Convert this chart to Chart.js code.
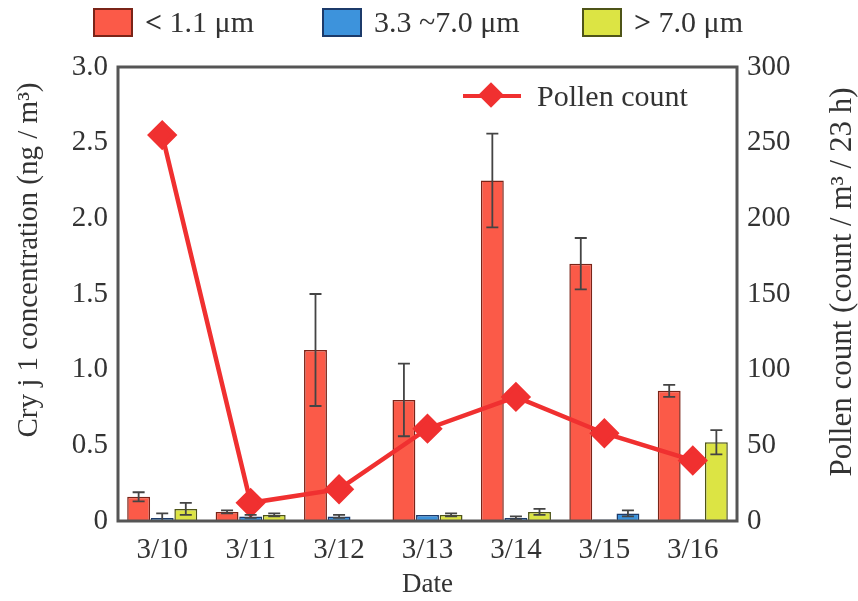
<!DOCTYPE html>
<html>
<head>
<meta charset="utf-8">
<script src="https://cdn.jsdelivr.net/npm/chart.js@4"></script>
<style>
  body { margin: 0; background: #fff; font-family: "Liberation Serif", serif; }
  #wrap { position: relative; width: 858px; height: 601px; }
  .legend { position: absolute; display: flex; align-items: center; font-size: 30px; color: #333; white-space: nowrap; }
  .box { display: inline-block; width: 36px; height: 25px; border: 2px solid #333; margin-right: 12px; }
  .pl-line { position: relative; width: 58px; height: 4px; background: #f03030; margin-right: 16px; }
  .pl-line::after { content: ''; position: absolute; left: 19px; top: -8px; width: 18px; height: 18px; background: #f03030; transform: rotate(45deg); }
</style>
</head>
<body>
<div id="wrap">
  <canvas id="chart" width="858" height="601"></canvas>
  <div id="topLegend"></div>
  <div class="legend" style="left:463px; top:79px;"><span class="pl-line"></span>Pollen count</div>
</div>
<script>
const dates = ['3/10', '3/11', '3/12', '3/13', '3/14', '3/15', '3/16'];

// Cry j 1 concentration (ng/m3) by particle size
const fine = [0.16, 0.06, 1.13, 0.80, 2.25, 1.70, 0.86];      // < 1.1 um
const fineErr = [0.03, 0.01, 0.37, 0.24, 0.31, 0.17, 0.04];
const mid = [0.02, 0.03, 0.03, 0.04, 0.02, 0.01, 0.01];        // 3.3 ~ 7.0 um
const midErr = [0.03, 0.01, 0.01, 0.00, 0.01, 0.00, 0.00];
const coarse = [0.08, 0.04, 0.00, 0.04, 0.06, 0.05, 0.52];     // > 7.0 um
const coarseErr = [0.04, 0.01, 0.00, 0.01, 0.02, 0.02, 0.08];

// Pollen count (count / m3 / 23 h)
const pollen = [255, 12, 21, 61, 82, 58, 40];

const leftTicks = [0, 0.5, 1.0, 1.5, 2.0, 2.5, 3.0];
const rightTicks = [0, 50, 100, 150, 200, 250, 300];

const leftTitle = 'Cry j 1 concentration (ng / m³)';
const rightTitle = 'Pollen count (count / m³ / 23 h)';

const sizeLabels = ['< 1.1 μm', '3.3 ~7.0 μm', '> 7.0 μm'];
const sizeColors = ['#fb5a48', '#3d93dc', '#dce444'];
const sizeBorders = ['#7a2418', '#1c3a6a', '#4e5418'];

// top legend (html)
const legendPos = [93, 322, 582];
const topLegend = document.getElementById('topLegend');
sizeLabels.forEach((lab, i) => {
  const el = document.createElement('div');
  el.className = 'legend';
  el.style.left = legendPos[i] + 'px';
  el.style.top = '5px';
  el.innerHTML = `<span class="box" style="background:${sizeColors[i]};border-color:${sizeBorders[i]}"></span>`;
  const span = document.createElement('span');
  if (lab[0] === '<' || lab[0] === '>') {
    const b = document.createElement('b');
    b.textContent = lab[0];
    span.appendChild(b);
    span.appendChild(document.createTextNode(lab.slice(1)));
  } else {
    span.textContent = lab;
  }
  el.appendChild(span);
  topLegend.appendChild(el);
});

// the 3/15 coarse bar is drawn in blue in the original
const coarseColors = dates.map((d, i) => i === 5 ? sizeColors[1] : sizeColors[2]);
const coarseBorders = dates.map((d, i) => i === 5 ? sizeBorders[1] : sizeBorders[2]);

const errors = [fineErr, midErr, coarseErr];

const errorBars = {
  id: 'errorBars',
  afterDatasetsDraw(chart) {
    const ctx = chart.ctx;
    const y = chart.scales.y;
    ctx.save();
    ctx.strokeStyle = '#444';
    ctx.lineWidth = 1.8;
    errors.forEach((errs, di) => {
      const meta = chart.getDatasetMeta(di);
      meta.data.forEach((bar, i) => {
        const v = chart.data.datasets[di].data[i];
        const e = errs[i];
        if (!e) return;
        const top = y.getPixelForValue(v + e);
        const bot = y.getPixelForValue(Math.max(v - e, 0));
        ctx.beginPath();
        ctx.moveTo(bar.x, top); ctx.lineTo(bar.x, bot);
        ctx.moveTo(bar.x - 6, top); ctx.lineTo(bar.x + 6, top);
        ctx.moveTo(bar.x - 6, bot); ctx.lineTo(bar.x + 6, bot);
        ctx.stroke();
      });
    });
    ctx.restore();
  }
};

// box round the plot + both y titles read bottom-to-top
const frame = {
  id: 'frame',
  afterDraw(chart) {
    const a = chart.chartArea;
    const ctx = chart.ctx;
    ctx.save();
    ctx.strokeStyle = '#555';
    ctx.lineWidth = 3;
    ctx.strokeRect(a.left, a.top, a.right - a.left, a.bottom - a.top);

    ctx.fillStyle = '#333';
    ctx.textAlign = 'center';
    ctx.textBaseline = 'middle';
    ctx.font = '29px "Liberation Serif"';
    ctx.translate(29, 260);
    ctx.rotate(-Math.PI / 2);
    ctx.fillText(leftTitle, 0, 0);
    ctx.setTransform(1, 0, 0, 1, 0, 0);
    ctx.font = '31px "Liberation Serif"';
    ctx.translate(843, 282);
    ctx.rotate(-Math.PI / 2);
    ctx.fillText(rightTitle, 0, 0);
    ctx.restore();
  }
};

const tickFont = { family: 'Liberation Serif', size: 29 };

new Chart(document.getElementById('chart'), {
  data: {
    labels: dates,
    datasets: [
      { type: 'bar', label: sizeLabels[0], data: fine, yAxisID: 'y',
        backgroundColor: sizeColors[0], borderColor: sizeBorders[0], borderWidth: 1.5, order: 2 },
      { type: 'bar', label: sizeLabels[1], data: mid, yAxisID: 'y',
        backgroundColor: sizeColors[1], borderColor: sizeBorders[1], borderWidth: 1.5, order: 2 },
      { type: 'bar', label: sizeLabels[2], data: coarse, yAxisID: 'y',
        backgroundColor: coarseColors, borderColor: coarseBorders, borderWidth: 1.5, order: 2 },
      { type: 'line', label: 'Pollen count', data: pollen, yAxisID: 'y1',
        borderColor: '#f03030', backgroundColor: '#f03030', borderWidth: 4.5,
        pointStyle: 'rectRot', pointRadius: 12, pointHoverRadius: 12, order: 1 }
    ]
  },
  options: {
    responsive: false,
    animation: false,
    layout: { padding: { top: 67, right: 0, left: 0, bottom: 0 } },
    datasets: { bar: { categoryPercentage: 0.8, barPercentage: 0.97 } },
    plugins: { legend: { display: false }, tooltip: { enabled: false } },
    scales: {
      x: {
        grid: { display: false, drawTicks: false },
        border: { display: false },
        ticks: { color: '#333', font: tickFont, padding: 12 },
        title: { display: true, text: 'Date', color: '#333', font: { family: 'Liberation Serif', size: 27 }, padding: 0 },
        afterFit: s => { s.height = 80; }
      },
      y: {
        position: 'left', min: 0, max: 3,
        grid: { display: false, drawTicks: false },
        border: { display: false },
        afterBuildTicks: s => { s.ticks = leftTicks.map(v => ({ value: v })); },
        ticks: { color: '#333', font: tickFont, padding: 10,
          callback: v => v === 0 ? '0' : v.toFixed(1) },
        afterFit: s => { s.width = 118; }
      },
      y1: {
        position: 'right', min: 0, max: 300,
        grid: { display: false, drawTicks: false },
        border: { display: false },
        afterBuildTicks: s => { s.ticks = rightTicks.map(v => ({ value: v })); },
        ticks: { color: '#333', font: tickFont, padding: 10 },
        afterFit: s => { s.width = 121; }
      }
    }
  },
  plugins: [errorBars, frame]
});
</script>
</body>
</html>
